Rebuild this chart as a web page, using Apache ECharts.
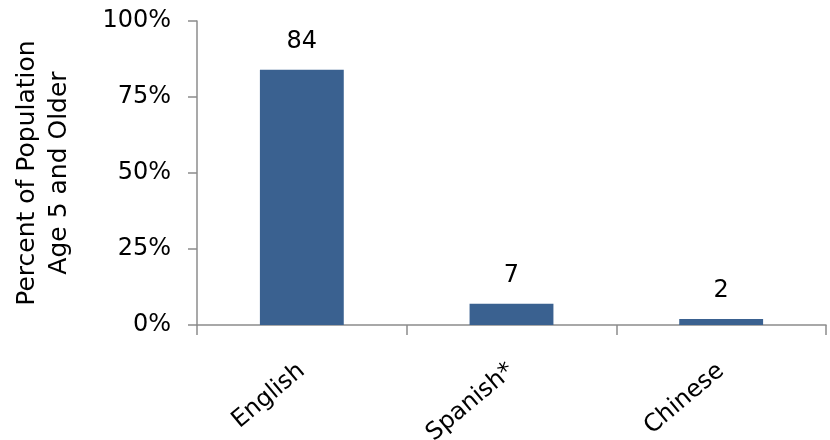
<!DOCTYPE html>
<html><head><meta charset="utf-8">
<script src="https://cdn.jsdelivr.net/npm/echarts@6/dist/echarts.min.js"></script>
<style>html,body{margin:0;padding:0;background:#fff}#c{width:830px;height:440px}</style>
</head><body><div id="c"></div>
<script>
const categories = ['English', 'Spanish*', 'Chinese'];
const values = [84, 7, 2];
const yTicks = [0, 25, 50, 75, 100];

const chart = echarts.init(document.getElementById('c'));
const font = 'DejaVu Sans, sans-serif';
chart.setOption({
  animation: false,
  grid: { left: 197, right: 4, top: 21, bottom: 115, containLabel: false, outerBoundsMode: 'none' },
  xAxis: {
    type: 'category',
    data: categories,
    axisLine: { lineStyle: { color: '#8c8c8c', width: 1.5 } },
    axisTick: { show: true, length: 10, lineStyle: { color: '#8c8c8c', width: 1.5 } },
    axisLabel: { rotate: 40, margin: 43, fontSize: 24, color: '#000', fontFamily: font }
  },
  yAxis: {
    type: 'value',
    min: 0, max: 100, interval: 25,
    name: 'Percent of Population\nAge 5 and Older',
    nameLocation: 'middle',
    nameGap: 122,
    nameRotate: 90,
    nameTextStyle: { fontSize: 25, color: '#000', fontFamily: font, lineHeight: 32 },
    axisLine: { show: true, lineStyle: { color: '#8c8c8c', width: 1.5 } },
    axisTick: { show: true, length: 9, lineStyle: { color: '#8c8c8c', width: 1.5 } },
    splitLine: { show: false },
    axisLabel: { fontSize: 24, color: '#000', margin: 26, fontFamily: font,
      formatter: v => yTicks.includes(v) ? v + '%' : '' }
  },
  series: [{
    type: 'bar',
    data: values,
    barWidth: '40%',
    itemStyle: { color: '#3a6190' },
    label: { show: true, position: 'top', distance: 16, fontSize: 24, color: '#000', fontFamily: font }
  }]
});
</script></body></html>
